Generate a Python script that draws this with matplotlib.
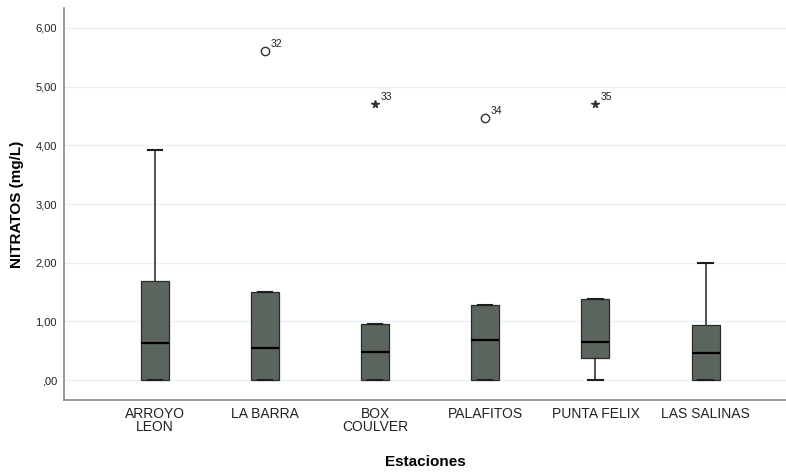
import matplotlib
matplotlib.use("Agg")
import matplotlib.pyplot as plt
from matplotlib.ticker import FuncFormatter

plt.rcParams['font.family'] = ['Liberation Sans', 'DejaVu Sans']

stations = ["ARROYO\nLEON", "LA BARRA", "BOX\nCOULVER", "PALAFITOS", "PUNTA FELIX", "LAS SALINAS"]
whisker_low = [0.0, 0.0, 0.0, 0.0, 0.0, 0.0]
q1 = [0.0, 0.0, 0.0, 0.0, 0.38, 0.0]
median = [0.63, 0.55, 0.48, 0.68, 0.65, 0.46]
q3 = [1.68, 1.50, 0.95, 1.28, 1.39, 0.93]
whisker_high = [3.92, 1.50, 0.95, 1.28, 1.39, 2.00]

outlier_station = [1, 2, 3, 4]
outlier_value = [5.61, 4.70, 4.47, 4.70]
outlier_kind = ["o", "*", "o", "*"]
outlier_label = ["32", "33", "34", "35"]

yticks = [0, 1, 2, 3, 4, 5, 6]

fig = plt.figure(figsize=(7.86, 4.72), dpi=100)
ax = fig.add_axes([0.0814, 0.1525, 0.9186, 0.8305])

stats = []
for i in range(len(stations)):
    stats.append(dict(med=median[i], q1=q1[i], q3=q3[i],
                      whislo=whisker_low[i], whishi=whisker_high[i], fliers=[]))
positions = list(range(1, len(stations) + 1))
ax.bxp(stats, positions=positions, widths=0.255, patch_artist=True,
       showfliers=False,
       boxprops=dict(facecolor="#5b655d", edgecolor="#2a2a2a", linewidth=0.9),
       medianprops=dict(color="black", linewidth=1.6),
       whiskerprops=dict(color="#333333", linewidth=1.2),
       capprops=dict(color="#1e1e1e", linewidth=1.5),
       capwidths=0.13, zorder=3)

for s, v, k, lab in zip(outlier_station, outlier_value, outlier_kind, outlier_label):
    x = positions[s]
    if k == "o":
        ax.plot([x], [v], marker="o", markersize=6, markerfacecolor="white",
                markeredgecolor="#333333", markeredgewidth=1.0, linestyle="none", zorder=4)
    else:
        ax.plot([x], [v], marker="*", markersize=5.5, color="#333333",
                linestyle="none", zorder=4)
    ax.annotate(lab, (x, v), xytext=(4, 3), textcoords="offset points",
                fontsize=7.5, color="#222222")

def fmt(v, p):
    s = ("%.2f" % v).replace(".", ",")
    return s[1:] if v == 0 else s

ax.set_xlim(0.175, 6.73)
ax.set_ylim(-0.34, 6.34)
ax.set_yticks(yticks)
ax.yaxis.set_major_formatter(FuncFormatter(fmt))
ax.set_xticks(positions)
ax.set_xticklabels(stations, fontsize=10, color="#222222", linespacing=0.95)
ax.tick_params(axis="y", length=0, labelsize=8, labelcolor="#222222", pad=5)
ax.tick_params(axis="x", length=0, pad=5)
ax.grid(axis="y", color="#ebf1fa", linewidth=1.0, zorder=0)
ax.set_axisbelow(True)
for side in ["top", "right"]:
    ax.spines[side].set_visible(False)
for side in ["left", "bottom"]:
    ax.spines[side].set_color("#888888")
    ax.spines[side].set_linewidth(1.2)

ax.set_ylabel("NITRATOS (mg/L)", fontsize=11, fontweight="bold", labelpad=8)
ax.set_xlabel("Estaciones", fontsize=11, fontweight="bold", labelpad=15)

fig.savefig("out.png", dpi=100)
